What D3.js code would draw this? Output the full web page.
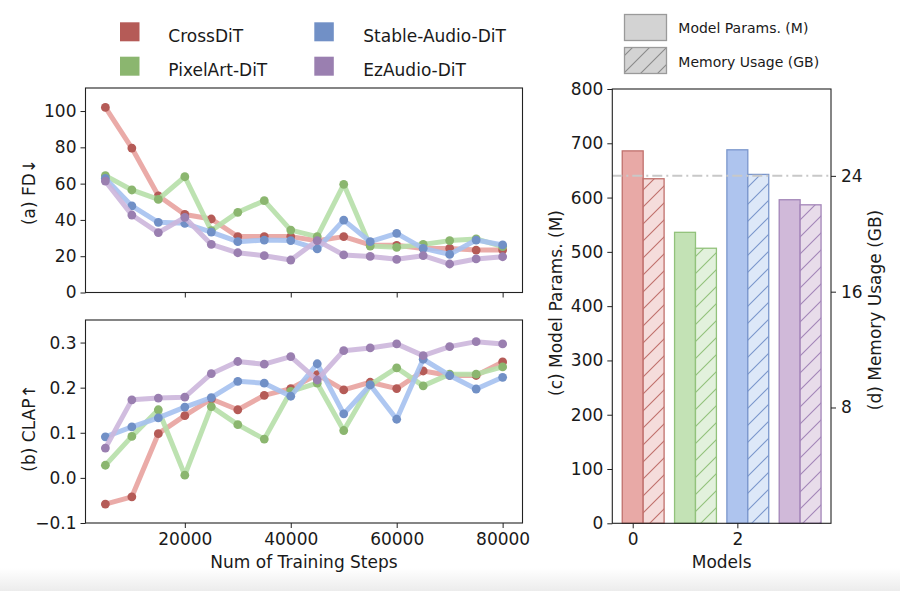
<!DOCTYPE html>
<html><head><meta charset="utf-8">
<script src="https://cdn.jsdelivr.net/npm/d3@7"></script>
<style>
body{margin:0;background:#fff}
text{font-family:"DejaVu Sans",sans-serif;fill:#1a1a1a}
</style>
</head><body>
<svg id="c" width="900" height="591"></svg>
<script>
// ---------------- data ----------------
const steps = [5000,10000,15000,20000,25000,30000,35000,40000,45000,50000,55000,60000,65000,70000,75000,80000];
const modelNames = ["CrossDiT","PixelArt-DiT","Stable-Audio-DiT","EzAudio-DiT"];

const fdCrossDiT    = [102,79.6,53.3,43,40.5,30.8,30.8,30.8,28.5,30.8,26.2,26,24.3,24.3,23.4,23.4];
const fdPixelArt    = [64.4,56.5,51.3,63.8,34.1,44.2,50.6,34.4,30.8,59.6,25.6,24.9,26.5,28.6,29.5,25.3];
const fdStableAudio = [62.9,47.7,38.7,38.1,33.3,28,28.9,28.6,24,39.9,28,32.6,24.3,21,28.9,26.2];
const fdEzAudio     = [61.4,42.7,33,41.4,26.5,21.9,20.3,17.9,28.6,20.7,19.9,18.3,20.3,15.7,18.5,19.7];

const clapCrossDiT    = [-0.058,-0.042,0.098,0.138,0.175,0.151,0.183,0.198,0.229,0.195,0.212,0.198,0.237,0.227,0.227,0.257];
const clapPixelArt    = [0.028,0.092,0.151,0.006,0.158,0.118,0.086,0.192,0.210,0.105,0.206,0.244,0.204,0.230,0.230,0.246];
const clapStableAudio = [0.091,0.113,0.133,0.157,0.178,0.214,0.210,0.181,0.253,0.142,0.206,0.130,0.263,0.227,0.197,0.223];
const clapEzAudio     = [0.066,0.173,0.177,0.179,0.231,0.258,0.252,0.269,0.217,0.282,0.288,0.297,0.271,0.291,0.302,0.297];

const modelIndex   = [0,1,2,3];
const paramsM      = [686,536,688,596];
const memoryGB     = [23.8,19.0,24.1,22.0];
const memoryRefGB  = 24;

const fdTicks   = [0,20,40,60,80,100];
const clapTicks = [-0.1,0.0,0.1,0.2,0.3];
const stepTicks = [20000,40000,60000,80000];
const paramTicks = [0,100,200,300,400,500,600,700,800];
const memTicks  = [8,16,24];
const modelTicks = [0,2];

// ---------------- styles ----------------
const markerColor = ["#b55b57","#8bb66f","#7190c6","#9a7fb0"];
const lineColor   = ["#e8a29e","#b6dfa8","#a5c1ef","#ccb6dc"];
const barFill     = ["#e8a9a6","#c3e2b5","#aec4ee","#d0b9d9"];
const hatchFill   = ["#f5dcdb","#e2f1dc","#dde8f8","#e8dcea"];
const barEdge     = ["#c0706c","#92c27b","#7a96cc","#a385b8"];

const svg = d3.select("#c");
const defs = svg.append("defs");

// bottom gray band
const g0 = defs.append("linearGradient").attr("id","band").attr("x1",0).attr("x2",0).attr("y1",0).attr("y2",1);
g0.append("stop").attr("offset","0%").attr("stop-color","#ffffff");
g0.append("stop").attr("offset","100%").attr("stop-color","#ececec");
svg.append("rect").attr("x",0).attr("y",568).attr("width",900).attr("height",23).attr("fill","url(#band)");

// hatch patterns
function hatch(id, fill, stroke){
  const p = defs.append("pattern").attr("id",id).attr("patternUnits","userSpaceOnUse")
    .attr("width",17).attr("height",17);
  p.append("rect").attr("width",17).attr("height",17).attr("fill",fill);
  p.append("path").attr("d","M0,17L17,0M-4,4L4,-4M13,21L21,13")
    .attr("stroke",stroke).attr("stroke-width",1.1);
}
modelIndex.forEach(i=>hatch("h"+i, hatchFill[i], barEdge[i]));
hatch("hleg","#d3d3d3","#8a8a8a");

function styleAxis(g){
  g.select(".domain").remove();
  g.selectAll(".tick line").attr("stroke","#222").attr("stroke-width",1);
  g.selectAll(".tick text").attr("font-size",17).attr("font-family","DejaVu Sans, sans-serif").attr("fill","#1a1a1a");
}
function frame(x0,x1,y0,y1){
  svg.append("rect").attr("x",x0).attr("y",y0).attr("width",x1-x0).attr("height",y1-y0)
    .attr("fill","none").attr("stroke","#222").attr("stroke-width",1.1);
}

// ---------------- left plots ----------------
const xL = d3.scaleLinear().domain([1250,83750]).range([85.5,522.5]);
const yFD = d3.scaleLinear().domain([0,112.7]).range([292.5,88]);
const yCL = d3.scaleLinear().domain([-0.1,0.35]).range([523,320]);

function linePanel(yScale, seriesList){
  const line = d3.line().x((d,i)=>xL(steps[i])).y(d=>yScale(d));
  seriesList.forEach((s,k)=>{
    svg.append("path").attr("d",line(s)).attr("fill","none")
      .attr("stroke",lineColor[k]).attr("stroke-width",5).attr("stroke-opacity",0.9)
      .attr("stroke-linejoin","round");
    svg.append("g").selectAll("circle").data(s).join("circle")
      .attr("cx",(d,i)=>xL(steps[i])).attr("cy",d=>yScale(d)).attr("r",4.4)
      .attr("fill",markerColor[k]);
  });
}
linePanel(yFD,[fdCrossDiT,fdPixelArt,fdStableAudio,fdEzAudio]);
linePanel(yCL,[clapCrossDiT,clapPixelArt,clapStableAudio,clapEzAudio]);

svg.append("g").attr("transform","translate(85.5,0)")
  .call(d3.axisLeft(yFD).tickValues(fdTicks).tickFormat(d3.format("d")).tickSize(5).tickPadding(4)).call(styleAxis);
svg.append("g").attr("transform","translate(0,292.5)")
  .call(d3.axisBottom(xL).tickValues(stepTicks).tickFormat("").tickSize(5)).call(styleAxis);
svg.append("g").attr("transform","translate(85.5,0)")
  .call(d3.axisLeft(yCL).tickValues(clapTicks).tickFormat(d=>d3.format(".1f")(d).replace("-","\u2212")).tickSize(5).tickPadding(4)).call(styleAxis);
svg.append("g").attr("transform","translate(0,523)")
  .call(d3.axisBottom(xL).tickValues(stepTicks).tickFormat(d3.format("d")).tickSize(5).tickPadding(5)).call(styleAxis);
frame(85.5,522.5,88,292.5);
frame(85.5,522.5,320,523);

svg.append("text").attr("transform","translate(34.5,192) rotate(-90)").attr("text-anchor","middle")
  .attr("font-size",17).text("(a) FD\u2193");
svg.append("text").attr("transform","translate(34.5,428) rotate(-90)").attr("text-anchor","middle")
  .attr("font-size",17).text("(b) CLAP\u2191");
svg.append("text").attr("x",304).attr("y",568).attr("text-anchor","middle")
  .attr("font-size",17).text("Num of Training Steps");

// ---------------- right bar chart ----------------
const xB = d3.scaleLinear().domain([-0.39,3.79]).range([612.3,831]);
const yP = d3.scaleLinear().domain([0,800]).range([523.3,89]);
const yM = d3.scaleLinear().domain([0,30]).range([523.3,89]);
const bw = 0.4;

svg.append("g").selectAll("rect").data(modelIndex).join("rect")
  .attr("x",i=>xB(i-bw/2)).attr("width",xB(bw)-xB(0))
  .attr("y",i=>yP(paramsM[i])).attr("height",i=>yP(0)-yP(paramsM[i]))
  .attr("fill",i=>barFill[i]).attr("stroke",i=>barEdge[i]).attr("stroke-width",1.3);
svg.append("g").selectAll("rect").data(modelIndex).join("rect")
  .attr("x",i=>xB(i+bw/2)).attr("width",xB(bw)-xB(0))
  .attr("y",i=>yM(memoryGB[i])).attr("height",i=>yM(0)-yM(memoryGB[i]))
  .attr("fill",i=>"url(#h"+i+")").attr("stroke",i=>barEdge[i]).attr("stroke-width",1.3);

svg.append("line").attr("x1",612.3).attr("x2",831).attr("y1",yM(memoryRefGB)).attr("y2",yM(memoryRefGB))
  .attr("stroke","#c8c8c8").attr("stroke-width",2).attr("stroke-dasharray","10,4,2,4");

svg.append("g").attr("transform","translate(612.3,0)")
  .call(d3.axisLeft(yP).tickValues(paramTicks).tickFormat(d3.format("d")).tickSize(5).tickPadding(4)).call(styleAxis);
svg.append("g").attr("transform","translate(831,0)")
  .call(d3.axisRight(yM).tickValues(memTicks).tickFormat(d3.format("d")).tickSize(5).tickPadding(5)).call(styleAxis);
svg.append("g").attr("transform","translate(0,523.3)")
  .call(d3.axisBottom(xB).tickValues(modelTicks).tickFormat(d3.format("d")).tickSize(5).tickPadding(5)).call(styleAxis);
frame(612.3,831,89,523.3);

svg.append("text").attr("transform","translate(562,303) rotate(-90)").attr("text-anchor","middle")
  .attr("font-size",17).text("(c) Model Params. (M)");
svg.append("text").attr("transform","translate(881,310) rotate(-90)").attr("text-anchor","middle")
  .attr("font-size",17).text("(d) Memory Usage (GB)");
svg.append("text").attr("x",721.7).attr("y",568).attr("text-anchor","middle")
  .attr("font-size",17).text("Models");

// ---------------- legends ----------------
const legPos = [[120,22.3],[120,56.7],[314.3,22.3],[314.3,56.7]];
const legTextX = [168.3,168.3,363.3,363.3];
modelNames.forEach((n,i)=>{
  svg.append("rect").attr("x",legPos[i][0]).attr("y",legPos[i][1]).attr("width",19.5).attr("height",19)
    .attr("fill",markerColor[i]);
  svg.append("text").attr("x",legTextX[i]).attr("y",legPos[i][1]+19.3).attr("font-size",17).text(n);
});

svg.append("rect").attr("x",624.5).attr("y",14.5).attr("width",42).attr("height",26)
  .attr("fill","#d3d3d3").attr("stroke","#9a9a9a").attr("stroke-width",1.3);
svg.append("rect").attr("x",624.5).attr("y",47.5).attr("width",42).attr("height",26)
  .attr("fill","url(#hleg)").attr("stroke","#9a9a9a").attr("stroke-width",1.3);
svg.append("text").attr("x",678.3).attr("y",33.3).attr("font-size",14).text("Model Params. (M)");
svg.append("text").attr("x",678.3).attr("y",66.7).attr("font-size",14).text("Memory Usage (GB)");
</script>
</body></html>
